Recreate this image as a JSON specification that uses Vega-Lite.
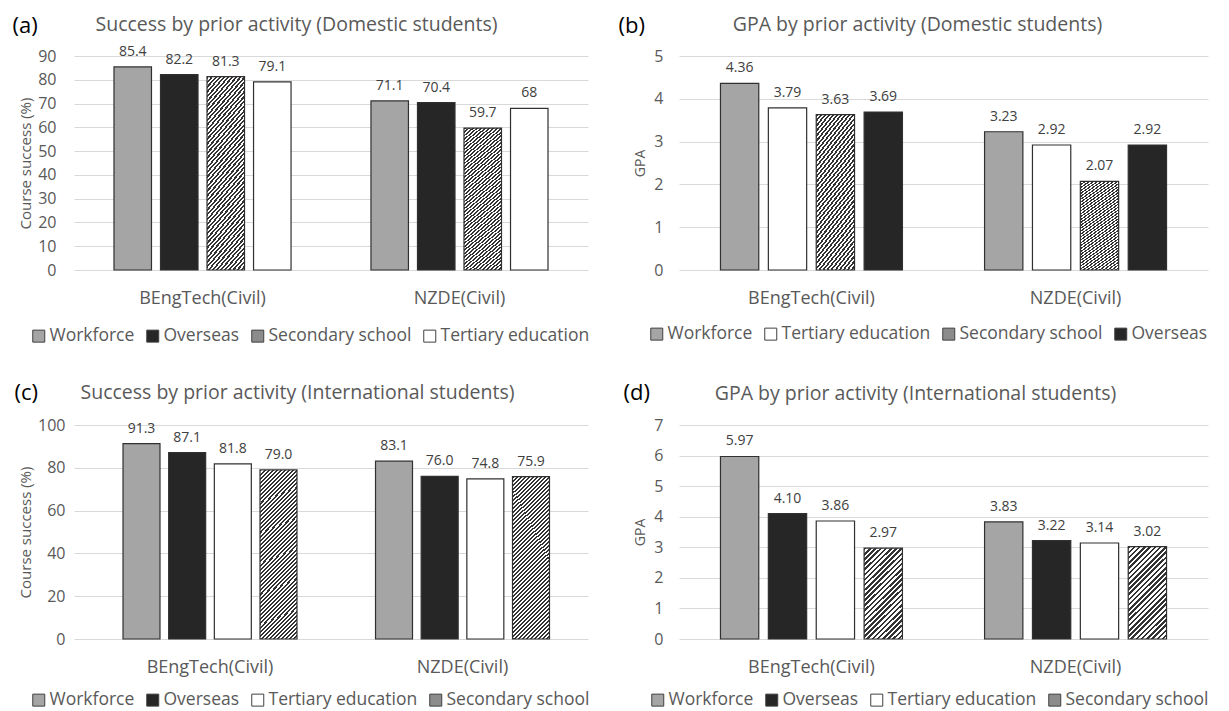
{
  "$schema": "https://vega.github.io/schema/vega-lite/v6.json",
  "autosize": {"type": "pad"},
  "padding": {"left": 12, "top": 14, "right": 0, "bottom": 0},
  "background": "#ffffff",
  "datasets": {
    "a": [
      {"program": "BEngTech(Civil)", "activity": "Workforce", "value": 85.4, "label": "85.4"},
      {"program": "BEngTech(Civil)", "activity": "Overseas", "value": 82.2, "label": "82.2"},
      {"program": "BEngTech(Civil)", "activity": "Secondary school", "value": 81.3, "label": "81.3"},
      {"program": "BEngTech(Civil)", "activity": "Tertiary education", "value": 79.1, "label": "79.1"},
      {"program": "NZDE(Civil)", "activity": "Workforce", "value": 71.1, "label": "71.1"},
      {"program": "NZDE(Civil)", "activity": "Overseas", "value": 70.4, "label": "70.4"},
      {"program": "NZDE(Civil)", "activity": "Secondary school", "value": 59.7, "label": "59.7"},
      {"program": "NZDE(Civil)", "activity": "Tertiary education", "value": 68, "label": "68"}
    ],
    "b": [
      {"program": "BEngTech(Civil)", "activity": "Workforce", "value": 4.36, "label": "4.36"},
      {"program": "BEngTech(Civil)", "activity": "Tertiary education", "value": 3.79, "label": "3.79"},
      {"program": "BEngTech(Civil)", "activity": "Secondary school", "value": 3.63, "label": "3.63"},
      {"program": "BEngTech(Civil)", "activity": "Overseas", "value": 3.69, "label": "3.69"},
      {"program": "NZDE(Civil)", "activity": "Workforce", "value": 3.23, "label": "3.23"},
      {"program": "NZDE(Civil)", "activity": "Tertiary education", "value": 2.92, "label": "2.92"},
      {"program": "NZDE(Civil)", "activity": "Secondary school", "value": 2.07, "label": "2.07"},
      {"program": "NZDE(Civil)", "activity": "Overseas", "value": 2.92, "label": "2.92"}
    ],
    "c": [
      {"program": "BEngTech(Civil)", "activity": "Workforce", "value": 91.3, "label": "91.3"},
      {"program": "BEngTech(Civil)", "activity": "Overseas", "value": 87.1, "label": "87.1"},
      {"program": "BEngTech(Civil)", "activity": "Tertiary education", "value": 81.8, "label": "81.8"},
      {"program": "BEngTech(Civil)", "activity": "Secondary school", "value": 79.0, "label": "79.0"},
      {"program": "NZDE(Civil)", "activity": "Workforce", "value": 83.1, "label": "83.1"},
      {"program": "NZDE(Civil)", "activity": "Overseas", "value": 76.0, "label": "76.0"},
      {"program": "NZDE(Civil)", "activity": "Tertiary education", "value": 74.8, "label": "74.8"},
      {"program": "NZDE(Civil)", "activity": "Secondary school", "value": 75.9, "label": "75.9"}
    ],
    "d": [
      {"program": "BEngTech(Civil)", "activity": "Workforce", "value": 5.97, "label": "5.97"},
      {"program": "BEngTech(Civil)", "activity": "Overseas", "value": 4.10, "label": "4.10"},
      {"program": "BEngTech(Civil)", "activity": "Tertiary education", "value": 3.86, "label": "3.86"},
      {"program": "BEngTech(Civil)", "activity": "Secondary school", "value": 2.97, "label": "2.97"},
      {"program": "NZDE(Civil)", "activity": "Workforce", "value": 3.83, "label": "3.83"},
      {"program": "NZDE(Civil)", "activity": "Overseas", "value": 3.22, "label": "3.22"},
      {"program": "NZDE(Civil)", "activity": "Tertiary education", "value": 3.14, "label": "3.14"},
      {"program": "NZDE(Civil)", "activity": "Secondary school", "value": 3.02, "label": "3.02"}
    ]
  },
  "vconcat": [
    {
      "hconcat": [
        {
          "width": 514, "height": 214,
          "data": {"name": "a"},
          "layer": [
            {
              "mark": {"type": "bar", "stroke": "#303030", "strokeWidth": 1.2},
              "encoding": {
                "x": {"field": "program", "type": "nominal", "sort": ["BEngTech(Civil)", "NZDE(Civil)"], "scale": {"paddingInner": 0.311, "paddingOuter": 0.1556}, "axis": {"title": null, "orient": "bottom", "labelAngle": 0, "ticks": false, "domain": false, "grid": false, "labelPadding": 19, "labelFontSize": 18, "labelColor": "#595959"}},
                "xOffset": {"field": "activity", "type": "nominal", "scale": {"domain": ["Workforce", "Overseas", "Secondary school", "Tertiary education"], "paddingInner": 0.194, "paddingOuter": 0}},
                "y": {"field": "value", "type": "quantitative", "scale": {"domain": [0, 90], "nice": false}, "axis": {"values": [0, 10, 20, 30, 40, 50, 60, 70, 80, 90], "title": "Course success (%)", "titleX": -49, "titleY": 107, "titleAlign": "center", "titleBaseline": "middle", "titleAngle": -90, "titleFontSize": 15, "titleColor": "#595959", "labelFontSize": 16, "labelColor": "#595959", "labelPadding": 18, "ticks": false, "domain": false, "grid": true, "gridColor": "#d9d9d9"}},
                "fill": {
                  "condition": {"test": "datum.activity === 'Secondary school'", "value": {"gradient": "linear", "x1": 0, "y1": 0, "x2": 0.26, "y2": 1.165, "stops": [
                    {"offset":0,"color":"#333"},{"offset":0.01,"color":"#333"},{"offset":0.01,"color":"#fff"},{"offset":0.02,"color":"#fff"},
                    {"offset":0.02,"color":"#333"},{"offset":0.03,"color":"#333"},{"offset":0.03,"color":"#fff"},{"offset":0.04,"color":"#fff"},
                    {"offset":0.04,"color":"#333"},{"offset":0.05,"color":"#333"},{"offset":0.05,"color":"#fff"},{"offset":0.06,"color":"#fff"},
                    {"offset":0.06,"color":"#333"},{"offset":0.07,"color":"#333"},{"offset":0.07,"color":"#fff"},{"offset":0.08,"color":"#fff"},
                    {"offset":0.08,"color":"#333"},{"offset":0.09,"color":"#333"},{"offset":0.09,"color":"#fff"},{"offset":0.1,"color":"#fff"},
                    {"offset":0.1,"color":"#333"},{"offset":0.11,"color":"#333"},{"offset":0.11,"color":"#fff"},{"offset":0.12,"color":"#fff"},
                    {"offset":0.12,"color":"#333"},{"offset":0.13,"color":"#333"},{"offset":0.13,"color":"#fff"},{"offset":0.14,"color":"#fff"},
                    {"offset":0.14,"color":"#333"},{"offset":0.15,"color":"#333"},{"offset":0.15,"color":"#fff"},{"offset":0.16,"color":"#fff"},
                    {"offset":0.16,"color":"#333"},{"offset":0.17,"color":"#333"},{"offset":0.17,"color":"#fff"},{"offset":0.18,"color":"#fff"},
                    {"offset":0.18,"color":"#333"},{"offset":0.19,"color":"#333"},{"offset":0.19,"color":"#fff"},{"offset":0.2,"color":"#fff"},
                    {"offset":0.2,"color":"#333"},{"offset":0.21,"color":"#333"},{"offset":0.21,"color":"#fff"},{"offset":0.22,"color":"#fff"},
                    {"offset":0.22,"color":"#333"},{"offset":0.23,"color":"#333"},{"offset":0.23,"color":"#fff"},{"offset":0.24,"color":"#fff"},
                    {"offset":0.24,"color":"#333"},{"offset":0.25,"color":"#333"},{"offset":0.25,"color":"#fff"},{"offset":0.26,"color":"#fff"},
                    {"offset":0.26,"color":"#333"},{"offset":0.27,"color":"#333"},{"offset":0.27,"color":"#fff"},{"offset":0.28,"color":"#fff"},
                    {"offset":0.28,"color":"#333"},{"offset":0.29,"color":"#333"},{"offset":0.29,"color":"#fff"},{"offset":0.3,"color":"#fff"},
                    {"offset":0.3,"color":"#333"},{"offset":0.31,"color":"#333"},{"offset":0.31,"color":"#fff"},{"offset":0.32,"color":"#fff"},
                    {"offset":0.32,"color":"#333"},{"offset":0.33,"color":"#333"},{"offset":0.33,"color":"#fff"},{"offset":0.34,"color":"#fff"},
                    {"offset":0.34,"color":"#333"},{"offset":0.35,"color":"#333"},{"offset":0.35,"color":"#fff"},{"offset":0.36,"color":"#fff"},
                    {"offset":0.36,"color":"#333"},{"offset":0.37,"color":"#333"},{"offset":0.37,"color":"#fff"},{"offset":0.38,"color":"#fff"},
                    {"offset":0.38,"color":"#333"},{"offset":0.39,"color":"#333"},{"offset":0.39,"color":"#fff"},{"offset":0.4,"color":"#fff"},
                    {"offset":0.4,"color":"#333"},{"offset":0.41,"color":"#333"},{"offset":0.41,"color":"#fff"},{"offset":0.42,"color":"#fff"},
                    {"offset":0.42,"color":"#333"},{"offset":0.43,"color":"#333"},{"offset":0.43,"color":"#fff"},{"offset":0.44,"color":"#fff"},
                    {"offset":0.44,"color":"#333"},{"offset":0.45,"color":"#333"},{"offset":0.45,"color":"#fff"},{"offset":0.46,"color":"#fff"},
                    {"offset":0.46,"color":"#333"},{"offset":0.47,"color":"#333"},{"offset":0.47,"color":"#fff"},{"offset":0.48,"color":"#fff"},
                    {"offset":0.48,"color":"#333"},{"offset":0.49,"color":"#333"},{"offset":0.49,"color":"#fff"},{"offset":0.5,"color":"#fff"},
                    {"offset":0.5,"color":"#333"},{"offset":0.51,"color":"#333"},{"offset":0.51,"color":"#fff"},{"offset":0.52,"color":"#fff"},
                    {"offset":0.52,"color":"#333"},{"offset":0.53,"color":"#333"},{"offset":0.53,"color":"#fff"},{"offset":0.54,"color":"#fff"},
                    {"offset":0.54,"color":"#333"},{"offset":0.55,"color":"#333"},{"offset":0.55,"color":"#fff"},{"offset":0.56,"color":"#fff"},
                    {"offset":0.56,"color":"#333"},{"offset":0.57,"color":"#333"},{"offset":0.57,"color":"#fff"},{"offset":0.58,"color":"#fff"},
                    {"offset":0.58,"color":"#333"},{"offset":0.59,"color":"#333"},{"offset":0.59,"color":"#fff"},{"offset":0.6,"color":"#fff"},
                    {"offset":0.6,"color":"#333"},{"offset":0.61,"color":"#333"},{"offset":0.61,"color":"#fff"},{"offset":0.62,"color":"#fff"},
                    {"offset":0.62,"color":"#333"},{"offset":0.63,"color":"#333"},{"offset":0.63,"color":"#fff"},{"offset":0.64,"color":"#fff"},
                    {"offset":0.64,"color":"#333"},{"offset":0.65,"color":"#333"},{"offset":0.65,"color":"#fff"},{"offset":0.66,"color":"#fff"},
                    {"offset":0.66,"color":"#333"},{"offset":0.67,"color":"#333"},{"offset":0.67,"color":"#fff"},{"offset":0.68,"color":"#fff"},
                    {"offset":0.68,"color":"#333"},{"offset":0.69,"color":"#333"},{"offset":0.69,"color":"#fff"},{"offset":0.7,"color":"#fff"},
                    {"offset":0.7,"color":"#333"},{"offset":0.71,"color":"#333"},{"offset":0.71,"color":"#fff"},{"offset":0.72,"color":"#fff"},
                    {"offset":0.72,"color":"#333"},{"offset":0.73,"color":"#333"},{"offset":0.73,"color":"#fff"},{"offset":0.74,"color":"#fff"},
                    {"offset":0.74,"color":"#333"},{"offset":0.75,"color":"#333"},{"offset":0.75,"color":"#fff"},{"offset":0.76,"color":"#fff"},
                    {"offset":0.76,"color":"#333"},{"offset":0.77,"color":"#333"},{"offset":0.77,"color":"#fff"},{"offset":0.78,"color":"#fff"},
                    {"offset":0.78,"color":"#333"},{"offset":0.79,"color":"#333"},{"offset":0.79,"color":"#fff"},{"offset":0.8,"color":"#fff"},
                    {"offset":0.8,"color":"#333"},{"offset":0.81,"color":"#333"},{"offset":0.81,"color":"#fff"},{"offset":0.82,"color":"#fff"},
                    {"offset":0.82,"color":"#333"},{"offset":0.83,"color":"#333"},{"offset":0.83,"color":"#fff"},{"offset":0.84,"color":"#fff"},
                    {"offset":0.84,"color":"#333"},{"offset":0.85,"color":"#333"},{"offset":0.85,"color":"#fff"},{"offset":0.86,"color":"#fff"},
                    {"offset":0.86,"color":"#333"},{"offset":0.87,"color":"#333"},{"offset":0.87,"color":"#fff"},{"offset":0.88,"color":"#fff"},
                    {"offset":0.88,"color":"#333"},{"offset":0.89,"color":"#333"},{"offset":0.89,"color":"#fff"},{"offset":0.9,"color":"#fff"},
                    {"offset":0.9,"color":"#333"},{"offset":0.91,"color":"#333"},{"offset":0.91,"color":"#fff"},{"offset":0.92,"color":"#fff"},
                    {"offset":0.92,"color":"#333"},{"offset":0.93,"color":"#333"},{"offset":0.93,"color":"#fff"},{"offset":0.94,"color":"#fff"},
                    {"offset":0.94,"color":"#333"},{"offset":0.95,"color":"#333"},{"offset":0.95,"color":"#fff"},{"offset":0.96,"color":"#fff"},
                    {"offset":0.96,"color":"#333"},{"offset":0.97,"color":"#333"},{"offset":0.97,"color":"#fff"},{"offset":0.98,"color":"#fff"},
                    {"offset":0.98,"color":"#333"},{"offset":0.99,"color":"#333"},{"offset":0.99,"color":"#fff"},{"offset":1,"color":"#fff"}
                  ]}},
                  "field": "activity", "type": "nominal",
                  "scale": {"domain": ["Workforce", "Overseas", "Secondary school", "Tertiary education"], "range": ["#a5a5a5", "#262626", "#8c8c8c", "#ffffff"]},
                  "legend": {"orient": "none", "legendX": -44, "legendY": 271, "direction": "horizontal", "title": null, "symbolStrokeColor": "#404040", "symbolStrokeWidth": 1, "values": ["Workforce", "Overseas", "Secondary school", "Tertiary education"]}
                }
              }
            },
            {
              "mark": {"type": "text", "baseline": "alphabetic", "dy": -11, "fontSize": 14, "color": "#404040"},
              "encoding": {
                "x": {"field": "program", "type": "nominal", "sort": ["BEngTech(Civil)", "NZDE(Civil)"], "axis": {"orient": "top", "title": "Success by prior activity (Domestic students)", "labels": false, "ticks": false, "domain": false, "grid": false, "titleX": 222, "titleY": -26, "titleAlign": "center", "titleBaseline": "alphabetic", "titleFontSize": 19.5, "titleColor": "#595959"}},
                "xOffset": {"field": "activity", "type": "nominal"},
                "y": {"field": "value", "type": "quantitative", "axis": {"orient": "right", "title": "(a)", "labels": false, "ticks": false, "domain": false, "grid": false, "titleX": -576, "titleY": -24, "titleAngle": 0, "titleAlign": "left", "titleBaseline": "alphabetic", "titleFontSize": 22, "titleColor": "#000000"}},
                "text": {"field": "label"}
              }
            }
          ],
          "resolve": {"axis": {"x": "independent", "y": "independent"}}
        },
        {
          "width": 529, "height": 214,
          "data": {"name": "b"},
          "layer": [
            {
              "mark": {"type": "bar", "stroke": "#303030", "strokeWidth": 1.2},
              "encoding": {
                "x": {"field": "program", "type": "nominal", "sort": ["BEngTech(Civil)", "NZDE(Civil)"], "scale": {"paddingInner": 0.311, "paddingOuter": 0.157}, "axis": {"title": null, "orient": "bottom", "labelAngle": 0, "ticks": false, "domain": false, "grid": false, "labelPadding": 19, "labelFontSize": 18, "labelColor": "#595959"}},
                "xOffset": {"field": "activity", "type": "nominal", "scale": {"domain": ["Workforce", "Tertiary education", "Secondary school", "Overseas"], "paddingInner": 0.2, "paddingOuter": 0}},
                "y": {"field": "value", "type": "quantitative", "scale": {"domain": [0, 5], "nice": false}, "axis": {"values": [0, 1, 2, 3, 4, 5], "title": "GPA", "titleX": -39, "titleY": 107, "titleAlign": "center", "titleBaseline": "middle", "titleAngle": -90, "titleFontSize": 14, "titleColor": "#595959", "labelFontSize": 16, "labelColor": "#595959", "labelPadding": 16, "ticks": false, "domain": false, "grid": true, "gridColor": "#d9d9d9"}},
                "fill": {
                  "condition": {"test": "datum.activity === 'Secondary school'", "value": {"gradient": "linear", "x1": 0, "y1": 0, "x2": 0.372, "y2": 1.195, "stops": [
                    {"offset":0,"color":"#333"},{"offset":0.0125,"color":"#333"},{"offset":0.0125,"color":"#fff"},{"offset":0.025,"color":"#fff"},
                    {"offset":0.025,"color":"#333"},{"offset":0.0375,"color":"#333"},{"offset":0.0375,"color":"#fff"},{"offset":0.05,"color":"#fff"},
                    {"offset":0.05,"color":"#333"},{"offset":0.0625,"color":"#333"},{"offset":0.0625,"color":"#fff"},{"offset":0.075,"color":"#fff"},
                    {"offset":0.075,"color":"#333"},{"offset":0.0875,"color":"#333"},{"offset":0.0875,"color":"#fff"},{"offset":0.1,"color":"#fff"},
                    {"offset":0.1,"color":"#333"},{"offset":0.1125,"color":"#333"},{"offset":0.1125,"color":"#fff"},{"offset":0.125,"color":"#fff"},
                    {"offset":0.125,"color":"#333"},{"offset":0.1375,"color":"#333"},{"offset":0.1375,"color":"#fff"},{"offset":0.15,"color":"#fff"},
                    {"offset":0.15,"color":"#333"},{"offset":0.1625,"color":"#333"},{"offset":0.1625,"color":"#fff"},{"offset":0.175,"color":"#fff"},
                    {"offset":0.175,"color":"#333"},{"offset":0.1875,"color":"#333"},{"offset":0.1875,"color":"#fff"},{"offset":0.2,"color":"#fff"},
                    {"offset":0.2,"color":"#333"},{"offset":0.2125,"color":"#333"},{"offset":0.2125,"color":"#fff"},{"offset":0.225,"color":"#fff"},
                    {"offset":0.225,"color":"#333"},{"offset":0.2375,"color":"#333"},{"offset":0.2375,"color":"#fff"},{"offset":0.25,"color":"#fff"},
                    {"offset":0.25,"color":"#333"},{"offset":0.2625,"color":"#333"},{"offset":0.2625,"color":"#fff"},{"offset":0.275,"color":"#fff"},
                    {"offset":0.275,"color":"#333"},{"offset":0.2875,"color":"#333"},{"offset":0.2875,"color":"#fff"},{"offset":0.3,"color":"#fff"},
                    {"offset":0.3,"color":"#333"},{"offset":0.3125,"color":"#333"},{"offset":0.3125,"color":"#fff"},{"offset":0.325,"color":"#fff"},
                    {"offset":0.325,"color":"#333"},{"offset":0.3375,"color":"#333"},{"offset":0.3375,"color":"#fff"},{"offset":0.35,"color":"#fff"},
                    {"offset":0.35,"color":"#333"},{"offset":0.3625,"color":"#333"},{"offset":0.3625,"color":"#fff"},{"offset":0.375,"color":"#fff"},
                    {"offset":0.375,"color":"#333"},{"offset":0.3875,"color":"#333"},{"offset":0.3875,"color":"#fff"},{"offset":0.4,"color":"#fff"},
                    {"offset":0.4,"color":"#333"},{"offset":0.4125,"color":"#333"},{"offset":0.4125,"color":"#fff"},{"offset":0.425,"color":"#fff"},
                    {"offset":0.425,"color":"#333"},{"offset":0.4375,"color":"#333"},{"offset":0.4375,"color":"#fff"},{"offset":0.45,"color":"#fff"},
                    {"offset":0.45,"color":"#333"},{"offset":0.4625,"color":"#333"},{"offset":0.4625,"color":"#fff"},{"offset":0.475,"color":"#fff"},
                    {"offset":0.475,"color":"#333"},{"offset":0.4875,"color":"#333"},{"offset":0.4875,"color":"#fff"},{"offset":0.5,"color":"#fff"},
                    {"offset":0.5,"color":"#333"},{"offset":0.5125,"color":"#333"},{"offset":0.5125,"color":"#fff"},{"offset":0.525,"color":"#fff"},
                    {"offset":0.525,"color":"#333"},{"offset":0.5375,"color":"#333"},{"offset":0.5375,"color":"#fff"},{"offset":0.55,"color":"#fff"},
                    {"offset":0.55,"color":"#333"},{"offset":0.5625,"color":"#333"},{"offset":0.5625,"color":"#fff"},{"offset":0.575,"color":"#fff"},
                    {"offset":0.575,"color":"#333"},{"offset":0.5875,"color":"#333"},{"offset":0.5875,"color":"#fff"},{"offset":0.6,"color":"#fff"},
                    {"offset":0.6,"color":"#333"},{"offset":0.6125,"color":"#333"},{"offset":0.6125,"color":"#fff"},{"offset":0.625,"color":"#fff"},
                    {"offset":0.625,"color":"#333"},{"offset":0.6375,"color":"#333"},{"offset":0.6375,"color":"#fff"},{"offset":0.65,"color":"#fff"},
                    {"offset":0.65,"color":"#333"},{"offset":0.6625,"color":"#333"},{"offset":0.6625,"color":"#fff"},{"offset":0.675,"color":"#fff"},
                    {"offset":0.675,"color":"#333"},{"offset":0.6875,"color":"#333"},{"offset":0.6875,"color":"#fff"},{"offset":0.7,"color":"#fff"},
                    {"offset":0.7,"color":"#333"},{"offset":0.7125,"color":"#333"},{"offset":0.7125,"color":"#fff"},{"offset":0.725,"color":"#fff"},
                    {"offset":0.725,"color":"#333"},{"offset":0.7375,"color":"#333"},{"offset":0.7375,"color":"#fff"},{"offset":0.75,"color":"#fff"},
                    {"offset":0.75,"color":"#333"},{"offset":0.7625,"color":"#333"},{"offset":0.7625,"color":"#fff"},{"offset":0.775,"color":"#fff"},
                    {"offset":0.775,"color":"#333"},{"offset":0.7875,"color":"#333"},{"offset":0.7875,"color":"#fff"},{"offset":0.8,"color":"#fff"},
                    {"offset":0.8,"color":"#333"},{"offset":0.8125,"color":"#333"},{"offset":0.8125,"color":"#fff"},{"offset":0.825,"color":"#fff"},
                    {"offset":0.825,"color":"#333"},{"offset":0.8375,"color":"#333"},{"offset":0.8375,"color":"#fff"},{"offset":0.85,"color":"#fff"},
                    {"offset":0.85,"color":"#333"},{"offset":0.8625,"color":"#333"},{"offset":0.8625,"color":"#fff"},{"offset":0.875,"color":"#fff"},
                    {"offset":0.875,"color":"#333"},{"offset":0.8875,"color":"#333"},{"offset":0.8875,"color":"#fff"},{"offset":0.9,"color":"#fff"},
                    {"offset":0.9,"color":"#333"},{"offset":0.9125,"color":"#333"},{"offset":0.9125,"color":"#fff"},{"offset":0.925,"color":"#fff"},
                    {"offset":0.925,"color":"#333"},{"offset":0.9375,"color":"#333"},{"offset":0.9375,"color":"#fff"},{"offset":0.95,"color":"#fff"},
                    {"offset":0.95,"color":"#333"},{"offset":0.9625,"color":"#333"},{"offset":0.9625,"color":"#fff"},{"offset":0.975,"color":"#fff"},
                    {"offset":0.975,"color":"#333"},{"offset":0.9875,"color":"#333"},{"offset":0.9875,"color":"#fff"},{"offset":1,"color":"#fff"}
                  ]}},
                  "field": "activity", "type": "nominal",
                  "scale": {"domain": ["Workforce", "Tertiary education", "Secondary school", "Overseas"], "range": ["#a5a5a5", "#ffffff", "#8c8c8c", "#262626"]},
                  "legend": {"orient": "none", "legendX": -31, "legendY": 269, "direction": "horizontal", "title": null, "symbolStrokeColor": "#404040", "symbolStrokeWidth": 1, "values": ["Workforce", "Tertiary education", "Secondary school", "Overseas"]}
                }
              }
            },
            {
              "mark": {"type": "text", "baseline": "alphabetic", "dy": -11, "fontSize": 14, "color": "#404040"},
              "encoding": {
                "x": {"field": "program", "type": "nominal", "sort": ["BEngTech(Civil)", "NZDE(Civil)"], "axis": {"orient": "top", "title": "GPA by prior activity (Domestic students)", "labels": false, "ticks": false, "domain": false, "grid": false, "titleX": 238, "titleY": -26, "titleAlign": "center", "titleBaseline": "alphabetic", "titleFontSize": 19.5, "titleColor": "#595959"}},
                "xOffset": {"field": "activity", "type": "nominal"},
                "y": {"field": "value", "type": "quantitative", "axis": {"orient": "right", "title": "(b)", "labels": false, "ticks": false, "domain": false, "grid": false, "titleX": -590, "titleY": -24, "titleAngle": 0, "titleAlign": "left", "titleBaseline": "alphabetic", "titleFontSize": 22, "titleColor": "#000000"}},
                "text": {"field": "label"}
              }
            }
          ],
          "resolve": {"axis": {"x": "independent", "y": "independent"}}
        }
      ],
      "spacing": 91,
      "bounds": "flush",
      "resolve": {"scale": {"fill": "independent", "xOffset": "independent"}, "legend": {"fill": "independent"}}
    },
    {
      "hconcat": [
        {
          "width": 514, "height": 214,
          "data": {"name": "c"},
          "layer": [
            {
              "mark": {"type": "bar", "stroke": "#303030", "strokeWidth": 1.2},
              "encoding": {
                "x": {"field": "program", "type": "nominal", "sort": ["BEngTech(Civil)", "NZDE(Civil)"], "scale": {"paddingInner": 0.311, "paddingOuter": 0.1733, "align": 0.56}, "axis": {"title": null, "orient": "bottom", "labelAngle": 0, "ticks": false, "domain": false, "grid": false, "labelPadding": 19, "labelFontSize": 18, "labelColor": "#595959"}},
                "xOffset": {"field": "activity", "type": "nominal", "scale": {"domain": ["Workforce", "Overseas", "Tertiary education", "Secondary school"], "paddingInner": 0.19, "paddingOuter": 0}},
                "y": {"field": "value", "type": "quantitative", "scale": {"domain": [0, 100], "nice": false}, "axis": {"values": [0, 20, 40, 60, 80, 100], "title": "Course success (%)", "titleX": -49, "titleY": 107, "titleAlign": "center", "titleBaseline": "middle", "titleAngle": -90, "titleFontSize": 15, "titleColor": "#595959", "labelFontSize": 16, "labelColor": "#595959", "labelPadding": 9, "ticks": false, "domain": false, "grid": true, "gridColor": "#d9d9d9"}},
                "fill": {
                  "condition": {"test": "datum.activity === 'Secondary school'", "value": {"gradient": "linear", "x1": 0, "y1": 0, "x2": 0.26, "y2": 1.165, "stops": [
                    {"offset":0,"color":"#333"},{"offset":0.01,"color":"#333"},{"offset":0.01,"color":"#fff"},{"offset":0.02,"color":"#fff"},
                    {"offset":0.02,"color":"#333"},{"offset":0.03,"color":"#333"},{"offset":0.03,"color":"#fff"},{"offset":0.04,"color":"#fff"},
                    {"offset":0.04,"color":"#333"},{"offset":0.05,"color":"#333"},{"offset":0.05,"color":"#fff"},{"offset":0.06,"color":"#fff"},
                    {"offset":0.06,"color":"#333"},{"offset":0.07,"color":"#333"},{"offset":0.07,"color":"#fff"},{"offset":0.08,"color":"#fff"},
                    {"offset":0.08,"color":"#333"},{"offset":0.09,"color":"#333"},{"offset":0.09,"color":"#fff"},{"offset":0.1,"color":"#fff"},
                    {"offset":0.1,"color":"#333"},{"offset":0.11,"color":"#333"},{"offset":0.11,"color":"#fff"},{"offset":0.12,"color":"#fff"},
                    {"offset":0.12,"color":"#333"},{"offset":0.13,"color":"#333"},{"offset":0.13,"color":"#fff"},{"offset":0.14,"color":"#fff"},
                    {"offset":0.14,"color":"#333"},{"offset":0.15,"color":"#333"},{"offset":0.15,"color":"#fff"},{"offset":0.16,"color":"#fff"},
                    {"offset":0.16,"color":"#333"},{"offset":0.17,"color":"#333"},{"offset":0.17,"color":"#fff"},{"offset":0.18,"color":"#fff"},
                    {"offset":0.18,"color":"#333"},{"offset":0.19,"color":"#333"},{"offset":0.19,"color":"#fff"},{"offset":0.2,"color":"#fff"},
                    {"offset":0.2,"color":"#333"},{"offset":0.21,"color":"#333"},{"offset":0.21,"color":"#fff"},{"offset":0.22,"color":"#fff"},
                    {"offset":0.22,"color":"#333"},{"offset":0.23,"color":"#333"},{"offset":0.23,"color":"#fff"},{"offset":0.24,"color":"#fff"},
                    {"offset":0.24,"color":"#333"},{"offset":0.25,"color":"#333"},{"offset":0.25,"color":"#fff"},{"offset":0.26,"color":"#fff"},
                    {"offset":0.26,"color":"#333"},{"offset":0.27,"color":"#333"},{"offset":0.27,"color":"#fff"},{"offset":0.28,"color":"#fff"},
                    {"offset":0.28,"color":"#333"},{"offset":0.29,"color":"#333"},{"offset":0.29,"color":"#fff"},{"offset":0.3,"color":"#fff"},
                    {"offset":0.3,"color":"#333"},{"offset":0.31,"color":"#333"},{"offset":0.31,"color":"#fff"},{"offset":0.32,"color":"#fff"},
                    {"offset":0.32,"color":"#333"},{"offset":0.33,"color":"#333"},{"offset":0.33,"color":"#fff"},{"offset":0.34,"color":"#fff"},
                    {"offset":0.34,"color":"#333"},{"offset":0.35,"color":"#333"},{"offset":0.35,"color":"#fff"},{"offset":0.36,"color":"#fff"},
                    {"offset":0.36,"color":"#333"},{"offset":0.37,"color":"#333"},{"offset":0.37,"color":"#fff"},{"offset":0.38,"color":"#fff"},
                    {"offset":0.38,"color":"#333"},{"offset":0.39,"color":"#333"},{"offset":0.39,"color":"#fff"},{"offset":0.4,"color":"#fff"},
                    {"offset":0.4,"color":"#333"},{"offset":0.41,"color":"#333"},{"offset":0.41,"color":"#fff"},{"offset":0.42,"color":"#fff"},
                    {"offset":0.42,"color":"#333"},{"offset":0.43,"color":"#333"},{"offset":0.43,"color":"#fff"},{"offset":0.44,"color":"#fff"},
                    {"offset":0.44,"color":"#333"},{"offset":0.45,"color":"#333"},{"offset":0.45,"color":"#fff"},{"offset":0.46,"color":"#fff"},
                    {"offset":0.46,"color":"#333"},{"offset":0.47,"color":"#333"},{"offset":0.47,"color":"#fff"},{"offset":0.48,"color":"#fff"},
                    {"offset":0.48,"color":"#333"},{"offset":0.49,"color":"#333"},{"offset":0.49,"color":"#fff"},{"offset":0.5,"color":"#fff"},
                    {"offset":0.5,"color":"#333"},{"offset":0.51,"color":"#333"},{"offset":0.51,"color":"#fff"},{"offset":0.52,"color":"#fff"},
                    {"offset":0.52,"color":"#333"},{"offset":0.53,"color":"#333"},{"offset":0.53,"color":"#fff"},{"offset":0.54,"color":"#fff"},
                    {"offset":0.54,"color":"#333"},{"offset":0.55,"color":"#333"},{"offset":0.55,"color":"#fff"},{"offset":0.56,"color":"#fff"},
                    {"offset":0.56,"color":"#333"},{"offset":0.57,"color":"#333"},{"offset":0.57,"color":"#fff"},{"offset":0.58,"color":"#fff"},
                    {"offset":0.58,"color":"#333"},{"offset":0.59,"color":"#333"},{"offset":0.59,"color":"#fff"},{"offset":0.6,"color":"#fff"},
                    {"offset":0.6,"color":"#333"},{"offset":0.61,"color":"#333"},{"offset":0.61,"color":"#fff"},{"offset":0.62,"color":"#fff"},
                    {"offset":0.62,"color":"#333"},{"offset":0.63,"color":"#333"},{"offset":0.63,"color":"#fff"},{"offset":0.64,"color":"#fff"},
                    {"offset":0.64,"color":"#333"},{"offset":0.65,"color":"#333"},{"offset":0.65,"color":"#fff"},{"offset":0.66,"color":"#fff"},
                    {"offset":0.66,"color":"#333"},{"offset":0.67,"color":"#333"},{"offset":0.67,"color":"#fff"},{"offset":0.68,"color":"#fff"},
                    {"offset":0.68,"color":"#333"},{"offset":0.69,"color":"#333"},{"offset":0.69,"color":"#fff"},{"offset":0.7,"color":"#fff"},
                    {"offset":0.7,"color":"#333"},{"offset":0.71,"color":"#333"},{"offset":0.71,"color":"#fff"},{"offset":0.72,"color":"#fff"},
                    {"offset":0.72,"color":"#333"},{"offset":0.73,"color":"#333"},{"offset":0.73,"color":"#fff"},{"offset":0.74,"color":"#fff"},
                    {"offset":0.74,"color":"#333"},{"offset":0.75,"color":"#333"},{"offset":0.75,"color":"#fff"},{"offset":0.76,"color":"#fff"},
                    {"offset":0.76,"color":"#333"},{"offset":0.77,"color":"#333"},{"offset":0.77,"color":"#fff"},{"offset":0.78,"color":"#fff"},
                    {"offset":0.78,"color":"#333"},{"offset":0.79,"color":"#333"},{"offset":0.79,"color":"#fff"},{"offset":0.8,"color":"#fff"},
                    {"offset":0.8,"color":"#333"},{"offset":0.81,"color":"#333"},{"offset":0.81,"color":"#fff"},{"offset":0.82,"color":"#fff"},
                    {"offset":0.82,"color":"#333"},{"offset":0.83,"color":"#333"},{"offset":0.83,"color":"#fff"},{"offset":0.84,"color":"#fff"},
                    {"offset":0.84,"color":"#333"},{"offset":0.85,"color":"#333"},{"offset":0.85,"color":"#fff"},{"offset":0.86,"color":"#fff"},
                    {"offset":0.86,"color":"#333"},{"offset":0.87,"color":"#333"},{"offset":0.87,"color":"#fff"},{"offset":0.88,"color":"#fff"},
                    {"offset":0.88,"color":"#333"},{"offset":0.89,"color":"#333"},{"offset":0.89,"color":"#fff"},{"offset":0.9,"color":"#fff"},
                    {"offset":0.9,"color":"#333"},{"offset":0.91,"color":"#333"},{"offset":0.91,"color":"#fff"},{"offset":0.92,"color":"#fff"},
                    {"offset":0.92,"color":"#333"},{"offset":0.93,"color":"#333"},{"offset":0.93,"color":"#fff"},{"offset":0.94,"color":"#fff"},
                    {"offset":0.94,"color":"#333"},{"offset":0.95,"color":"#333"},{"offset":0.95,"color":"#fff"},{"offset":0.96,"color":"#fff"},
                    {"offset":0.96,"color":"#333"},{"offset":0.97,"color":"#333"},{"offset":0.97,"color":"#fff"},{"offset":0.98,"color":"#fff"},
                    {"offset":0.98,"color":"#333"},{"offset":0.99,"color":"#333"},{"offset":0.99,"color":"#fff"},{"offset":1,"color":"#fff"}
                  ]}},
                  "field": "activity", "type": "nominal",
                  "scale": {"domain": ["Workforce", "Overseas", "Tertiary education", "Secondary school"], "range": ["#a5a5a5", "#262626", "#ffffff", "#8c8c8c"]},
                  "legend": {"orient": "none", "legendX": -44, "legendY": 266, "direction": "horizontal", "title": null, "symbolStrokeColor": "#404040", "symbolStrokeWidth": 1, "values": ["Workforce", "Overseas", "Tertiary education", "Secondary school"]}
                }
              }
            },
            {
              "mark": {"type": "text", "baseline": "alphabetic", "dy": -11, "fontSize": 14, "color": "#404040"},
              "encoding": {
                "x": {"field": "program", "type": "nominal", "sort": ["BEngTech(Civil)", "NZDE(Civil)"], "axis": {"orient": "top", "title": "Success by prior activity (International students)", "labels": false, "ticks": false, "domain": false, "grid": false, "titleX": 223, "titleY": -27, "titleAlign": "center", "titleBaseline": "alphabetic", "titleFontSize": 19.5, "titleColor": "#595959"}},
                "xOffset": {"field": "activity", "type": "nominal"},
                "y": {"field": "value", "type": "quantitative", "axis": {"orient": "right", "title": "(c)", "labels": false, "ticks": false, "domain": false, "grid": false, "titleX": -574, "titleY": -26, "titleAngle": 0, "titleAlign": "left", "titleBaseline": "alphabetic", "titleFontSize": 22, "titleColor": "#000000"}},
                "text": {"field": "label"}
              }
            }
          ],
          "resolve": {"axis": {"x": "independent", "y": "independent"}}
        },
        {
          "width": 529, "height": 214,
          "data": {"name": "d"},
          "layer": [
            {
              "mark": {"type": "bar", "stroke": "#303030", "strokeWidth": 1.2},
              "encoding": {
                "x": {"field": "program", "type": "nominal", "sort": ["BEngTech(Civil)", "NZDE(Civil)"], "scale": {"paddingInner": 0.311, "paddingOuter": 0.157}, "axis": {"title": null, "orient": "bottom", "labelAngle": 0, "ticks": false, "domain": false, "grid": false, "labelPadding": 19, "labelFontSize": 18, "labelColor": "#595959"}},
                "xOffset": {"field": "activity", "type": "nominal", "scale": {"domain": ["Workforce", "Overseas", "Tertiary education", "Secondary school"], "paddingInner": 0.2, "paddingOuter": 0}},
                "y": {"field": "value", "type": "quantitative", "scale": {"domain": [0, 7], "nice": false}, "axis": {"values": [0, 1, 2, 3, 4, 5, 6, 7], "title": "GPA", "titleX": -39, "titleY": 107, "titleAlign": "center", "titleBaseline": "middle", "titleAngle": -90, "titleFontSize": 14, "titleColor": "#595959", "labelFontSize": 16, "labelColor": "#595959", "labelPadding": 16, "ticks": false, "domain": false, "grid": true, "gridColor": "#d9d9d9"}},
                "fill": {
                  "condition": {"test": "datum.activity === 'Secondary school'", "value": {"gradient": "linear", "x1": 0, "y1": 0, "x2": 0.499, "y2": 1.207, "stops": [
                    {"offset":0,"color":"#333"},{"offset":0.02,"color":"#333"},{"offset":0.02,"color":"#fff"},{"offset":0.04,"color":"#fff"},
                    {"offset":0.04,"color":"#333"},{"offset":0.06,"color":"#333"},{"offset":0.06,"color":"#fff"},{"offset":0.08,"color":"#fff"},
                    {"offset":0.08,"color":"#333"},{"offset":0.1,"color":"#333"},{"offset":0.1,"color":"#fff"},{"offset":0.12,"color":"#fff"},
                    {"offset":0.12,"color":"#333"},{"offset":0.14,"color":"#333"},{"offset":0.14,"color":"#fff"},{"offset":0.16,"color":"#fff"},
                    {"offset":0.16,"color":"#333"},{"offset":0.18,"color":"#333"},{"offset":0.18,"color":"#fff"},{"offset":0.2,"color":"#fff"},
                    {"offset":0.2,"color":"#333"},{"offset":0.22,"color":"#333"},{"offset":0.22,"color":"#fff"},{"offset":0.24,"color":"#fff"},
                    {"offset":0.24,"color":"#333"},{"offset":0.26,"color":"#333"},{"offset":0.26,"color":"#fff"},{"offset":0.28,"color":"#fff"},
                    {"offset":0.28,"color":"#333"},{"offset":0.3,"color":"#333"},{"offset":0.3,"color":"#fff"},{"offset":0.32,"color":"#fff"},
                    {"offset":0.32,"color":"#333"},{"offset":0.34,"color":"#333"},{"offset":0.34,"color":"#fff"},{"offset":0.36,"color":"#fff"},
                    {"offset":0.36,"color":"#333"},{"offset":0.38,"color":"#333"},{"offset":0.38,"color":"#fff"},{"offset":0.4,"color":"#fff"},
                    {"offset":0.4,"color":"#333"},{"offset":0.42,"color":"#333"},{"offset":0.42,"color":"#fff"},{"offset":0.44,"color":"#fff"},
                    {"offset":0.44,"color":"#333"},{"offset":0.46,"color":"#333"},{"offset":0.46,"color":"#fff"},{"offset":0.48,"color":"#fff"},
                    {"offset":0.48,"color":"#333"},{"offset":0.5,"color":"#333"},{"offset":0.5,"color":"#fff"},{"offset":0.52,"color":"#fff"},
                    {"offset":0.52,"color":"#333"},{"offset":0.54,"color":"#333"},{"offset":0.54,"color":"#fff"},{"offset":0.56,"color":"#fff"},
                    {"offset":0.56,"color":"#333"},{"offset":0.58,"color":"#333"},{"offset":0.58,"color":"#fff"},{"offset":0.6,"color":"#fff"},
                    {"offset":0.6,"color":"#333"},{"offset":0.62,"color":"#333"},{"offset":0.62,"color":"#fff"},{"offset":0.64,"color":"#fff"},
                    {"offset":0.64,"color":"#333"},{"offset":0.66,"color":"#333"},{"offset":0.66,"color":"#fff"},{"offset":0.68,"color":"#fff"},
                    {"offset":0.68,"color":"#333"},{"offset":0.7,"color":"#333"},{"offset":0.7,"color":"#fff"},{"offset":0.72,"color":"#fff"},
                    {"offset":0.72,"color":"#333"},{"offset":0.74,"color":"#333"},{"offset":0.74,"color":"#fff"},{"offset":0.76,"color":"#fff"},
                    {"offset":0.76,"color":"#333"},{"offset":0.78,"color":"#333"},{"offset":0.78,"color":"#fff"},{"offset":0.8,"color":"#fff"},
                    {"offset":0.8,"color":"#333"},{"offset":0.82,"color":"#333"},{"offset":0.82,"color":"#fff"},{"offset":0.84,"color":"#fff"},
                    {"offset":0.84,"color":"#333"},{"offset":0.86,"color":"#333"},{"offset":0.86,"color":"#fff"},{"offset":0.88,"color":"#fff"},
                    {"offset":0.88,"color":"#333"},{"offset":0.9,"color":"#333"},{"offset":0.9,"color":"#fff"},{"offset":0.92,"color":"#fff"},
                    {"offset":0.92,"color":"#333"},{"offset":0.94,"color":"#333"},{"offset":0.94,"color":"#fff"},{"offset":0.96,"color":"#fff"},
                    {"offset":0.96,"color":"#333"},{"offset":0.98,"color":"#333"},{"offset":0.98,"color":"#fff"},{"offset":1,"color":"#fff"}
                  ]}},
                  "field": "activity", "type": "nominal",
                  "scale": {"domain": ["Workforce", "Overseas", "Tertiary education", "Secondary school"], "range": ["#a5a5a5", "#262626", "#ffffff", "#8c8c8c"]},
                  "legend": {"orient": "none", "legendX": -30, "legendY": 266, "direction": "horizontal", "title": null, "symbolStrokeColor": "#404040", "symbolStrokeWidth": 1, "values": ["Workforce", "Overseas", "Tertiary education", "Secondary school"]}
                }
              }
            },
            {
              "mark": {"type": "text", "baseline": "alphabetic", "dy": -11, "fontSize": 14, "color": "#404040"},
              "encoding": {
                "x": {"field": "program", "type": "nominal", "sort": ["BEngTech(Civil)", "NZDE(Civil)"], "axis": {"orient": "top", "title": "GPA by prior activity (International students)", "labels": false, "ticks": false, "domain": false, "grid": false, "titleX": 236, "titleY": -26, "titleAlign": "center", "titleBaseline": "alphabetic", "titleFontSize": 19.5, "titleColor": "#595959"}},
                "xOffset": {"field": "activity", "type": "nominal"},
                "y": {"field": "value", "type": "quantitative", "axis": {"orient": "right", "title": "(d)", "labels": false, "ticks": false, "domain": false, "grid": false, "titleX": -585, "titleY": -26, "titleAngle": 0, "titleAlign": "left", "titleBaseline": "alphabetic", "titleFontSize": 22, "titleColor": "#000000"}},
                "text": {"field": "label"}
              }
            }
          ],
          "resolve": {"axis": {"x": "independent", "y": "independent"}}
        }
      ],
      "spacing": 91,
      "bounds": "flush",
      "resolve": {"scale": {"fill": "independent", "xOffset": "independent"}, "legend": {"fill": "independent"}}
    }
  ],
  "spacing": 369,
  "bounds": "flush",
  "resolve": {"scale": {"fill": "independent", "xOffset": "independent"}, "legend": {"fill": "independent"}},
  "config": {
    "font": "Open Sans",
    "view": {"stroke": null},
    "axis": {"labelFont": "Open Sans", "titleFont": "Open Sans", "titleFontWeight": "normal"},
    "legend": {"labelFont": "Open Sans", "labelFontSize": 17.5, "labelColor": "#595959", "labelOffset": 2, "columnPadding": 9, "symbolType": "square", "symbolSize": 144, "symbolStrokeColor": "#404040", "symbolStrokeWidth": 1, "symbolOpacity": 1},
    "text": {"font": "Open Sans"}
  }
}
